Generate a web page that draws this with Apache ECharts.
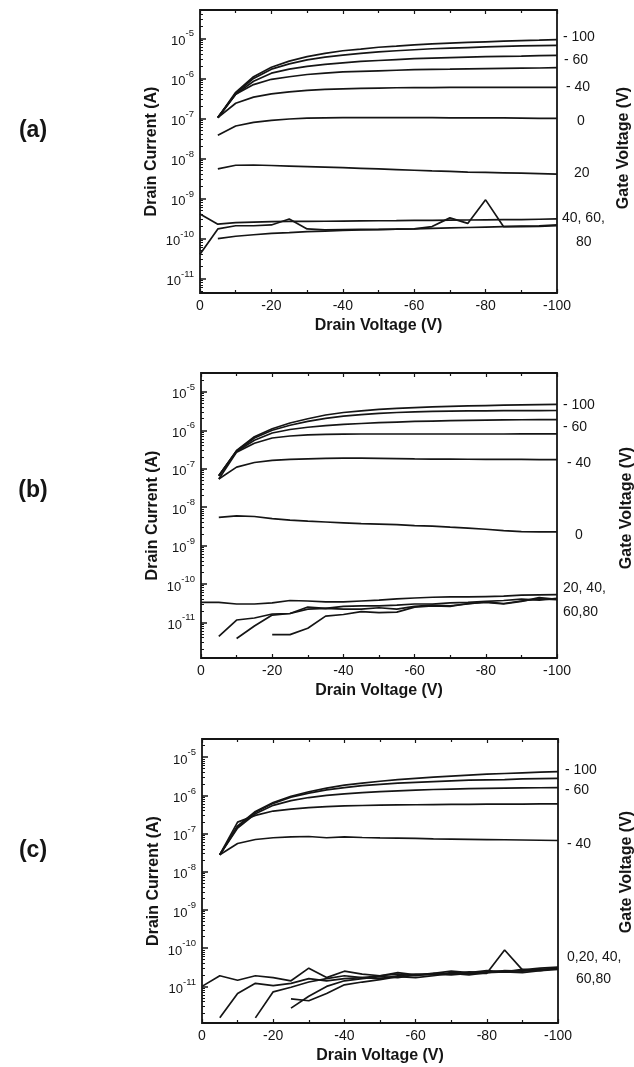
<!DOCTYPE html>
<html><head><meta charset="utf-8">
<script src="https://cdn.jsdelivr.net/npm/echarts@6/dist/echarts.min.js"></script>
<style>html,body{margin:0;padding:0;background:#fff}#c{width:634px;height:1067px}</style>
</head><body><div id="c"></div>
<script>
// Drain voltage (V) sample points
const VD = [0,-5,-10,-15,-20,-25,-30,-35,-40,-45,-50,-55,-60,-65,-70,-75,-80,-85,-90,-95,-100];
// Y tick labels (decades) and x tick labels
const DECADES = [1e-11,1e-10,1e-9,1e-8,1e-7,1e-6,1e-5];
const X_TICKS = [0,-20,-40,-60,-80,-100];
const GATE_V = [-100,-80,-60,-40,-20,0,20,40,60,80];

// ---- panel (a) drain current (A) ----
const a_m100 = [null,1.05e-7,4.5e-7,1.1e-6,1.9e-6,2.7e-6,3.5e-6,4.2e-6,4.9e-6,5.4e-6,6.0e-6,6.4e-6,6.9e-6,7.3e-6,7.6e-6,7.9e-6,8.2e-6,8.5e-6,8.8e-6,9.0e-6,9.3e-6];
const a_m80  = [null,1.05e-7,4.2e-7,1.0e-6,1.7e-6,2.3e-6,2.9e-6,3.4e-6,3.8e-6,4.2e-6,4.6e-6,4.9e-6,5.2e-6,5.5e-6,5.7e-6,5.9e-6,6.1e-6,6.3e-6,6.5e-6,6.6e-6,6.7e-6];
const a_m60  = [null,1.05e-7,4.0e-7,8.5e-7,1.35e-6,1.7e-6,2.0e-6,2.25e-6,2.45e-6,2.65e-6,2.8e-6,2.95e-6,3.1e-6,3.2e-6,3.3e-6,3.4e-6,3.5e-6,3.55e-6,3.6e-6,3.7e-6,3.75e-6];
const a_m40  = [null,1.05e-7,4.0e-7,7.0e-7,9.5e-7,1.1e-6,1.25e-6,1.35e-6,1.45e-6,1.5e-6,1.55e-6,1.6e-6,1.65e-6,1.68e-6,1.7e-6,1.73e-6,1.76e-6,1.78e-6,1.8e-6,1.82e-6,1.85e-6];
const a_m20  = [null,1.05e-7,2.4e-7,3.4e-7,4.1e-7,4.6e-7,5.0e-7,5.3e-7,5.5e-7,5.65e-7,5.75e-7,5.85e-7,5.9e-7,5.92e-7,5.94e-7,5.96e-7,5.97e-7,5.98e-7,5.99e-7,6.0e-7,6.0e-7];
const a_0    = [null,3.8e-8,6.5e-8,8.0e-8,9.0e-8,9.7e-8,1.02e-7,1.04e-7,1.05e-7,1.05e-7,1.05e-7,1.05e-7,1.05e-7,1.05e-7,1.04e-7,1.04e-7,1.03e-7,1.03e-7,1.02e-7,1.01e-7,1.0e-7];
const a_20   = [null,5.5e-9,6.8e-9,6.9e-9,6.7e-9,6.5e-9,6.3e-9,6.1e-9,5.9e-9,5.7e-9,5.5e-9,5.3e-9,5.1e-9,4.9e-9,4.8e-9,4.6e-9,4.5e-9,4.4e-9,4.3e-9,4.2e-9,4.1e-9];
const a_40   = [4.1e-10,2.3e-10,2.5e-10,2.6e-10,2.65e-10,2.7e-10,2.7e-10,2.72e-10,2.75e-10,2.77e-10,2.8e-10,2.82e-10,2.85e-10,2.87e-10,2.9e-10,2.92e-10,2.95e-10,2.98e-10,3.0e-10,3.05e-10,3.1e-10];
const a_60   = [4.1e-11,1.75e-10,2.1e-10,2.1e-10,2.2e-10,3.1e-10,1.75e-10,1.65e-10,1.68e-10,1.7e-10,1.7e-10,1.72e-10,1.75e-10,2.0e-10,3.3e-10,2.4e-10,9.3e-10,2.0e-10,2.0e-10,2.02e-10,2.1e-10];
const a_80   = [null,1.0e-10,1.15e-10,1.25e-10,1.35e-10,1.42e-10,1.5e-10,1.55e-10,1.6e-10,1.65e-10,1.68e-10,1.72e-10,1.75e-10,1.8e-10,1.85e-10,1.9e-10,1.95e-10,2.0e-10,2.05e-10,2.1e-10,2.2e-10];

// ---- panel (b) ----
const b_m100 = [null,6.6e-8,3.0e-7,6.8e-7,1.1e-6,1.55e-6,2.0e-6,2.5e-6,2.9e-6,3.2e-6,3.5e-6,3.7e-6,3.9e-6,4.05e-6,4.2e-6,4.3e-6,4.4e-6,4.5e-6,4.6e-6,4.65e-6,4.7e-6];
const b_m80  = [null,6.6e-8,2.9e-7,6.3e-7,1.0e-6,1.35e-6,1.7e-6,2.05e-6,2.35e-6,2.55e-6,2.75e-6,2.9e-6,3.0e-6,3.1e-6,3.15e-6,3.2e-6,3.22e-6,3.24e-6,3.25e-6,3.26e-6,3.27e-6];
const b_m60  = [null,6.6e-8,2.8e-7,5.5e-7,8.5e-7,1.05e-6,1.2e-6,1.32e-6,1.42e-6,1.5e-6,1.58e-6,1.64e-6,1.7e-6,1.74e-6,1.78e-6,1.81e-6,1.84e-6,1.86e-6,1.88e-6,1.89e-6,1.9e-6];
const b_m40  = [null,5.4e-8,2.7e-7,4.6e-7,6.3e-7,7.1e-7,7.6e-7,7.8e-7,7.9e-7,8.0e-7,8.0e-7,8.0e-7,8.0e-7,8.0e-7,8.0e-7,8.0e-7,8.0e-7,8.0e-7,8.05e-7,8.05e-7,8.05e-7];
const b_m20  = [null,5.4e-8,1.1e-7,1.45e-7,1.65e-7,1.75e-7,1.8e-7,1.85e-7,1.88e-7,1.88e-7,1.86e-7,1.83e-7,1.8e-7,1.78e-7,1.77e-7,1.76e-7,1.75e-7,1.75e-7,1.74e-7,1.73e-7,1.73e-7];
const b_0    = [null,5.4e-9,5.9e-9,5.7e-9,5.0e-9,4.6e-9,4.3e-9,4.1e-9,3.9e-9,3.7e-9,3.6e-9,3.5e-9,3.3e-9,3.2e-9,3.0e-9,2.85e-9,2.65e-9,2.45e-9,2.3e-9,2.27e-9,2.26e-9];
const b_20   = [3.3e-11,3.3e-11,3.0e-11,3.0e-11,3.2e-11,3.7e-11,3.6e-11,3.4e-11,3.4e-11,3.6e-11,3.8e-11,4.1e-11,4.3e-11,4.5e-11,4.6e-11,4.6e-11,4.7e-11,4.8e-11,5.1e-11,5.2e-11,5.3e-11];
const b_40   = [null,4.3e-12,1.15e-11,1.3e-11,1.65e-11,1.7e-11,2.5e-11,2.3e-11,2.6e-11,2.7e-11,2.7e-11,2.8e-11,3.0e-11,3.0e-11,3.2e-11,3.3e-11,3.5e-11,3.7e-11,4.0e-11,3.8e-11,4.2e-11];
const b_60   = [null,null,3.8e-12,8e-12,1.55e-11,1.7e-11,2.2e-11,2.3e-11,2.2e-11,2.2e-11,2.4e-11,2.2e-11,2.6e-11,2.8e-11,2.7e-11,3.0e-11,3.4e-11,3.1e-11,3.6e-11,4.1e-11,3.9e-11];
const b_80   = [null,null,null,null,4.8e-12,4.8e-12,7.0e-12,1.45e-11,1.6e-11,1.9e-11,1.8e-11,1.85e-11,2.5e-11,2.7e-11,2.6e-11,3.1e-11,3.3e-11,3.0e-11,3.5e-11,4.4e-11,4.0e-11];

// ---- panel (c) ----
const c_m100 = [null,2.8e-8,1.6e-7,3.8e-7,6.5e-7,9.5e-7,1.25e-6,1.55e-6,1.85e-6,2.1e-6,2.35e-6,2.6e-6,2.8e-6,3.0e-6,3.2e-6,3.4e-6,3.6e-6,3.75e-6,3.9e-6,4.05e-6,4.2e-6];
const c_m80  = [null,2.8e-8,1.5e-7,3.6e-7,6.2e-7,9.0e-7,1.15e-6,1.4e-6,1.6e-6,1.8e-6,1.95e-6,2.1e-6,2.2e-6,2.3e-6,2.4e-6,2.5e-6,2.55e-6,2.6e-6,2.7e-6,2.75e-6,2.8e-6];
const c_m60  = [null,2.8e-8,1.4e-7,3.3e-7,5.5e-7,7.3e-7,8.8e-7,1.0e-6,1.1e-6,1.18e-6,1.25e-6,1.32e-6,1.38e-6,1.43e-6,1.47e-6,1.5e-6,1.53e-6,1.55e-6,1.57e-6,1.59e-6,1.6e-6];
const c_m40  = [null,2.8e-8,2.0e-7,3.0e-7,3.9e-7,4.4e-7,4.8e-7,5.1e-7,5.3e-7,5.45e-7,5.55e-7,5.65e-7,5.7e-7,5.75e-7,5.8e-7,5.85e-7,5.9e-7,5.92e-7,5.95e-7,5.98e-7,6.0e-7];
const c_m20  = [null,2.8e-8,5.5e-8,7.0e-8,7.8e-8,8.2e-8,8.4e-8,7.8e-8,8.2e-8,7.9e-8,7.7e-8,7.6e-8,7.5e-8,7.3e-8,7.2e-8,7.1e-8,7.0e-8,6.9e-8,6.8e-8,6.7e-8,6.6e-8];
const c_0    = [1.0e-11,1.9e-11,1.45e-11,1.9e-11,1.7e-11,1.4e-11,3.0e-11,1.7e-11,2.5e-11,2.1e-11,1.9e-11,2.3e-11,2.0e-11,2.2e-11,2.5e-11,2.3e-11,2.6e-11,2.4e-11,2.8e-11,2.6e-11,3.0e-11];
const c_20   = [null,1.5e-12,6.5e-12,1.2e-11,1.05e-11,1.2e-11,1.6e-11,1.4e-11,1.6e-11,1.7e-11,1.6e-11,1.9e-11,2.1e-11,2.0e-11,2.3e-11,2.2e-11,2.4e-11,2.5e-11,2.6e-11,2.8e-11,2.9e-11];
const c_40   = [null,null,null,1.5e-12,7.2e-12,9.5e-12,1.3e-11,1.6e-11,1.9e-11,1.7e-11,1.9e-11,2.1e-11,1.9e-11,2.2e-11,2.1e-11,2.4e-11,2.3e-11,2.6e-11,2.5e-11,2.7e-11,3.1e-11];
const c_60   = [null,null,null,null,null,2.7e-12,5.5e-12,1.0e-11,1.4e-11,1.6e-11,1.8e-11,1.7e-11,2.0e-11,2.1e-11,2.0e-11,2.2e-11,2.2e-11,9.0e-11,2.7e-11,3.0e-11,3.2e-11];
const c_80   = [null,null,null,null,null,4.7e-12,4.2e-12,6.5e-12,1.1e-11,1.3e-11,1.5e-11,1.8e-11,1.7e-11,1.9e-11,2.2e-11,2.0e-11,2.3e-11,2.4e-11,2.3e-11,2.6e-11,2.8e-11];

const PANELS = [
  {tag:'(a)', curves:[a_m100,a_m80,a_m60,a_m40,a_m20,a_0,a_20,a_40,a_60,a_80]},
  {tag:'(b)', curves:[b_m100,b_m80,b_m60,b_m40,b_m20,b_0,b_20,b_40,b_60,b_80]},
  {tag:'(c)', curves:[c_m100,c_m80,c_m60,c_m40,c_m20,c_0,c_20,c_40,c_60,c_80]}
];
const GATE_LABELS = [
  ['- 100','- 60','- 40','0','20','40, 60,','80'],
  ['- 100','- 60','- 40','0','20, 40,','60,80'],
  ['- 100','- 60','- 40','0,20, 40,','60,80']
];

// ---------- layout ----------
const FONT = 'Liberation Sans, Arial, Helvetica, sans-serif';
const INK = '#151515';
const LAYOUT = [
  {grid:{left:200, top:10, width:357, height:283}, ymin:4.4e-12, ymax:5.1e-5,
   labY:[37,60,87,121,173,218,242], labX:[563,564,566,577,574,562,576], tagY:131, gateY:148, gateX:624},
  {grid:{left:201, top:373, width:356, height:285}, ymin:1.18e-12, ymax:3.1e-5,
   labY:[405,427,463,535,588,612], labX:[563,563,567,575,563,563], tagY:491, gateY:508, gateX:627},
  {grid:{left:202, top:739, width:356, height:284}, ymin:1.1e-12, ymax:3.0e-5,
   labY:[770,790,844,957,979], labX:[565,565,567,567,576], tagY:851, gateY:872, gateX:627}
];
const MINOR = [];
DECADES.concat([1e-12]).forEach(d => { for (let m = 2; m <= 9; m++) MINOR.push(+(m*d).toPrecision(3)); });

const grids = [], xAxes = [], yAxes = [], series = [], graphics = [];
LAYOUT.forEach((L, p) => {
  grids.push(Object.assign({show:true, borderColor:INK, borderWidth:1.8, backgroundColor:'transparent',
    containLabel:false, outerBoundsMode:'none'}, L.grid));
  const xBase = {type:'value', gridIndex:p, min:-100, max:0, interval:20, inverse:true,
    axisLine:{show:false}, splitLine:{show:false},
    axisTick:{show:true, inside:true, length:4, lineStyle:{color:INK, width:1.2}},
    minorTick:{show:true, splitNumber:2, length:3, lineStyle:{color:INK, width:1.2}}};
  xAxes.push(Object.assign({}, xBase, {position:'bottom', name:'Drain Voltage (V)', nameLocation:'middle', nameGap:25,
    nameMoveOverlap:false,
    nameTextStyle:{fontFamily:FONT, fontWeight:'bold', fontSize:16, color:INK},
    axisLabel:{show:true, margin:6, fontFamily:FONT, fontSize:14, color:INK, customValues:X_TICKS,
      formatter: v => String(v)}}));
  xAxes.push(Object.assign({}, xBase, {position:'top', axisLabel:{show:false}}));
  yAxes.push({type:'log', logBase:10, gridIndex:p, min:L.ymin, max:L.ymax, position:'left',
    axisLine:{show:false}, splitLine:{show:false}, minorTick:{show:false},
    axisTick:{show:true, inside:true, length:6, customValues:DECADES, lineStyle:{color:INK, width:1.5}},
    name:'Drain Current (A)', nameLocation:'middle', nameGap:40, nameRotate:90, nameMoveOverlap:false,
    nameTextStyle:{fontFamily:FONT, fontWeight:'bold', fontSize:16, color:INK},
    axisLabel:{show:true, margin:6, customValues:DECADES, align:'right',
      formatter: v => '{b|10}{s|' + Math.round(Math.log10(v)) + '}',
      rich:{b:{fontFamily:FONT, fontSize:13, color:INK, lineHeight:19, verticalAlign:'bottom'},
            s:{fontFamily:FONT, fontSize:9.5, color:INK, lineHeight:10, verticalAlign:'top'}}}});
  yAxes.push({type:'log', logBase:10, gridIndex:p, min:L.ymin, max:L.ymax, position:'left',
    axisLine:{show:false}, splitLine:{show:false}, axisLabel:{show:false},
    axisTick:{show:true, inside:true, length:3, customValues:MINOR.filter(v => v > L.ymin && v < L.ymax),
      lineStyle:{color:INK, width:1}}});
  PANELS[p].curves.forEach((arr, k) => {
    series.push({type:'line', name:PANELS[p].tag + ' VG=' + GATE_V[k] + ' V', xAxisIndex:2*p, yAxisIndex:2*p,
      data: VD.map((v, i) => [v, arr[i]]), showSymbol:false, symbol:'none', connectNulls:false,
      lineStyle:{color:INK, width:1.7}, emphasis:{disabled:true}, animation:false, z:3});
  });
  GATE_LABELS[p].forEach((t, i) => {
    graphics.push({type:'text', x:L.labX[i], y:L.labY[i], silent:true,
      style:{text:t, fontFamily:FONT, fontSize:14, fill:INK, align:'left', verticalAlign:'middle'}});
  });
  graphics.push({type:'text', x:L.gateX, y:L.gateY, rotation:Math.PI/2, silent:true,
    style:{text:'Gate Voltage (V)', fontFamily:FONT, fontSize:16, fontWeight:'bold', fill:INK, align:'center', verticalAlign:'middle'}});
  graphics.push({type:'text', x:33, y:L.tagY, silent:true,
    style:{text:PANELS[p].tag, fontFamily:FONT, fontSize:23, fontWeight:'bold', fill:INK, align:'center', verticalAlign:'middle'}});
});

const chart = echarts.init(document.getElementById('c'), null, {renderer:'canvas'});
chart.setOption({
  backgroundColor:'#fff', animation:false, tooltip:{show:false}, legend:{show:false},
  grid:grids, xAxis:xAxes, yAxis:yAxes, series:series, graphic:graphics
});
</script></body></html>
